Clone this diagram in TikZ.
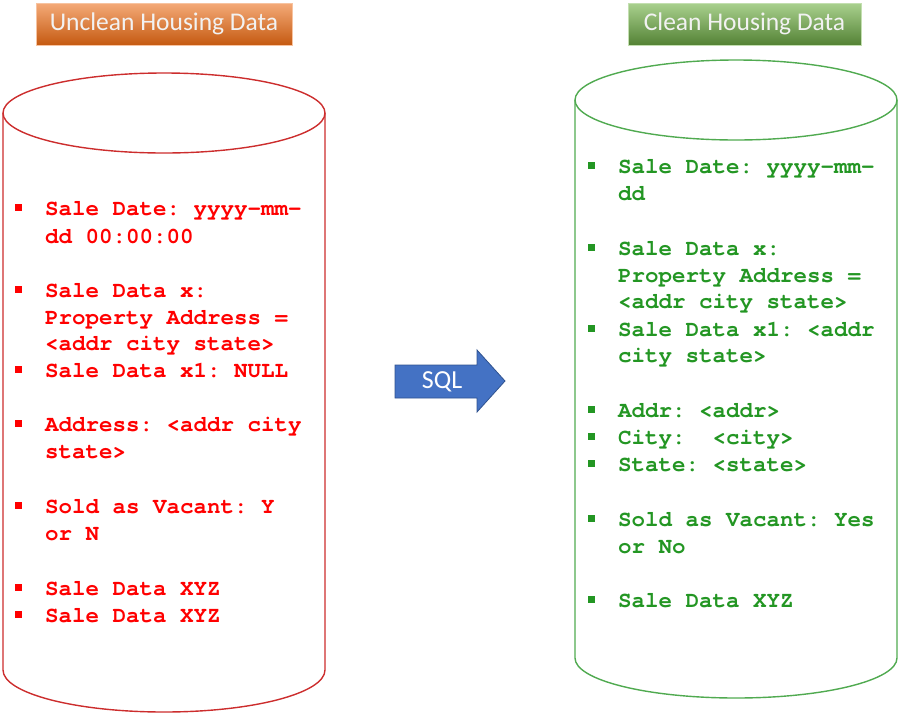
\documentclass[tikz,border=0pt]{standalone}
\usepackage{fontspec}
\setmainfont{Carlito}
\newfontfamily\codefont{TeX Gyre Cursor}
\definecolor{redstroke}{RGB}{204,45,45}
\definecolor{redtext}{RGB}{255,0,0}
\definecolor{greenstroke}{RGB}{80,170,80}
\definecolor{greentext}{RGB}{35,150,35}
\definecolor{orangetop}{RGB}{244,170,120}
\definecolor{orangebot}{RGB}{197,90,17}
\definecolor{greentop}{RGB}{169,209,142}
\definecolor{greenbot}{RGB}{84,130,53}
\definecolor{arrowfill}{RGB}{68,114,196}
\definecolor{arrowline}{RGB}{47,82,143}
\newcommand{\blt}{\llap{\raisebox{4pt}{\rule{7pt}{7pt}}\hspace{23pt}}}
\frenchspacing
\tikzset{
  codeline/.style={anchor=base west, inner sep=0pt, font=\codefont\bfseries\fontsize{22.5}{27}\selectfont\frenchspacing},
  redtxt/.style={codeline, text=redtext},
  grntxt/.style={codeline, text=greentext},
  titlebox/.style={minimum height=42pt, inner sep=0pt, text=white!95!black, font=\fontsize{25.5}{30}\selectfont},
  cylred/.style={draw=redstroke, line width=1.4pt},
  cylgrn/.style={draw=greenstroke, line width=1.4pt},
}
\begin{document}
\begin{tikzpicture}[x=1pt,y=-1pt]
\useasboundingbox (0,0) rectangle (905,713);
% titles
\node[titlebox, top color=orangetop, bottom color=orangebot, draw=orangetop!70!white, line width=0.6pt, minimum width=256pt] (t1) at (164,24) {Unclean Housing Data};
\node[titlebox, top color=greentop, bottom color=greenbot, draw=greentop!70!white, line width=0.6pt, minimum width=233pt] (t2) at (744.5,24) {Clean Housing Data};
% red cylinder
\draw[cylred] (164,113) ellipse [x radius=161pt, y radius=40pt];
\draw[cylred] (3,113) -- (3,670) arc[start angle=180, end angle=360, x radius=161pt, y radius=42pt] -- (325,113);
% green cylinder
\draw[cylgrn] (736,100) ellipse [x radius=161pt, y radius=40pt];
\draw[cylgrn] (575,100) -- (575,658) arc[start angle=180, end angle=360, x radius=161pt, y radius=40pt] -- (897,100);
% arrow
\draw[fill=arrowfill, draw=arrowline, line width=0.8pt] (395,365) -- (477,365) -- (477,350) -- (505,381) -- (477,412) -- (477,398) -- (395,398) -- cycle;
\node[text=white, font=\fontsize{26}{30}\selectfont, inner sep=0pt] (sql) at (442,381.5) {SQL};
% red text
\node[redtxt] (r1) at (45,215) {\blt Sale Date: yyyy-mm-};
\node[redtxt] (r2) at (45,243) {dd 00:00:00};
\node[redtxt] (r3) at (45,297) {\blt Sale Data x:};
\node[redtxt] (r4) at (45,324) {Property Address =};
\node[redtxt] (r5) at (45,350) {<addr city state>};
\node[redtxt] (r6) at (45,377) {\blt Sale Data x1: NULL};
\node[redtxt] (r7) at (45,431) {\blt Address: <addr city};
\node[redtxt] (r8) at (45,458) {state>};
\node[redtxt] (r9) at (45,513) {\blt Sold as Vacant: Y};
\node[redtxt] (r10) at (45,540) {or N};
\node[redtxt] (r11) at (45,595) {\blt Sale Data XYZ};
\node[redtxt] (r12) at (45,622) {\blt Sale Data XYZ};
% green text
\node[grntxt] (g1) at (618,173) {\blt Sale Date: yyyy-mm-};
\node[grntxt] (g2) at (618,200) {dd};
\node[grntxt] (g3) at (618,255) {\blt Sale Data x:};
\node[grntxt] (g4) at (618,282) {Property Address =};
\node[grntxt] (g5) at (618,308) {<addr city state>};
\node[grntxt] (g6) at (618,336) {\blt Sale Data x1: <addr};
\node[grntxt] (g7) at (618,362) {city state>};
\node[grntxt] (g8) at (618,417) {\blt Addr: <addr>};
\node[grntxt] (g9) at (618,444) {\blt City:\ \ <city>};
\node[grntxt] (g10) at (618,471) {\blt State: <state>};
\node[grntxt] (g11) at (618,526) {\blt Sold as Vacant: Yes};
\node[grntxt] (g12) at (618,553) {or No};
\node[grntxt] (g13) at (618,607) {\blt Sale Data XYZ};
\end{tikzpicture}
\end{document}
